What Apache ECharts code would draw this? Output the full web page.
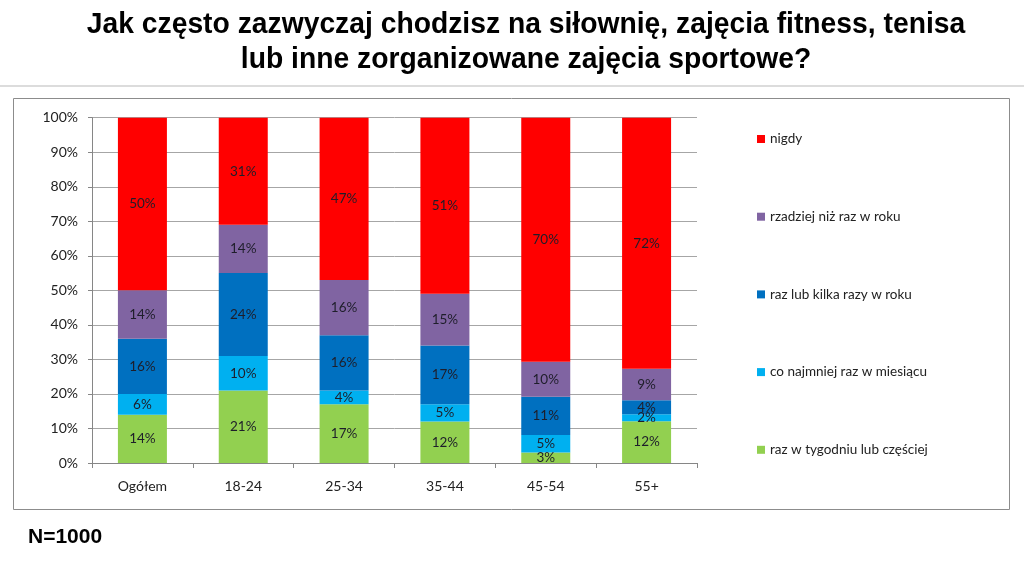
<!DOCTYPE html>
<html>
<head>
<meta charset="utf-8">
<script src="https://cdn.jsdelivr.net/npm/echarts@6/dist/echarts.min.js"></script>
<style>html,body{margin:0;padding:0;background:#fff;}#c{width:1024px;height:562px;}</style>
</head>
<body>
<div id="c"></div>
<script>
const categories = ['Ogółem', '18-24', '25-34', '35-44', '45-54', '55+'];
const seriesNames = ['raz w tygodniu lub częściej', 'co najmniej raz w miesiącu', 'raz lub kilka razy w roku', 'rzadziej niż raz w roku', 'nigdy'];
const weekly = [14, 21, 17, 12, 3, 12];
const monthly = [6, 10, 4, 5, 5, 2];
const yearly = [16, 24, 16, 17, 11, 4];
const lessThanYearly = [14, 14, 16, 15, 10, 9];
const never = [50, 31, 47, 51, 70, 72];
const colors = ['#92D050', '#00B0F0', '#0070C0', '#8064A2', '#FF0000'];
const yTickLabels = ['0%', '10%', '20%', '30%', '40%', '50%', '60%', '70%', '80%', '90%', '100%'];

const allSeries = [weekly, monthly, yearly, lessThanYearly, never];
const totals = categories.map((c, i) => allSeries.reduce((s, arr) => s + arr[i], 0));
const labelFont = 'Lato, "Noto Sans", sans-serif';

const chart = echarts.init(document.getElementById('c'), null, {renderer: 'canvas'});
chart.setOption({
  animation: false,
  backgroundColor: '#fff',
  graphic: [
    {type: 'line', shape: {x1: 0, y1: 86, x2: 1024, y2: 86}, style: {stroke: '#dcdcdc', lineWidth: 2}},
    {type: 'rect', shape: {x: 13.5, y: 98.5, width: 996, height: 411}, style: {fill: 'none', stroke: '#8c8c8c', lineWidth: 1}},
    {type: 'text', x: 526, y: 7, scaleX: 0.975, style: {
      text: 'Jak często zazwyczaj chodzisz na siłownię, zajęcia fitness, tenisa\nlub inne zorganizowane zajęcia sportowe?',
      font: 'bold 29px "Liberation Sans", Arial, sans-serif', textAlign: 'center', textVerticalAlign: 'top', lineHeight: 35, fill: '#000'}},
    {type: 'text', x: 28, y: 527, style: {text: 'N=1000', font: 'bold 21px "Liberation Sans", Arial, sans-serif', fill: '#000', textVerticalAlign: 'top'}}
  ],
  grid: {left: 92, right: 327, top: 117.7, bottom: 99, containLabel: false},
  legend: {
    orient: 'vertical', left: 757, top: 131, padding: 0,
    itemWidth: 8, itemHeight: 8, itemGap: 61.7,
    icon: 'rect',
    data: seriesNames.slice().reverse(),
    textStyle: {fontFamily: labelFont, fontSize: 13.5, color: '#222', lineHeight: 16}
  },
  xAxis: {
    type: 'category', data: categories,
    axisLine: {lineStyle: {color: '#868686'}},
    axisTick: {show: true, interval: 0, length: 5, lineStyle: {color: '#868686'}},
    axisLabel: {interval: 0, fontFamily: labelFont, fontSize: 14, color: '#222', margin: 16}
  },
  yAxis: {
    type: 'value', min: 0, max: 100, interval: 10,
    axisLine: {show: true, lineStyle: {color: '#868686'}},
    axisTick: {show: true, length: 4, lineStyle: {color: '#868686'}},
    splitLine: {lineStyle: {color: '#a6a6a6'}},
    axisLabel: {fontFamily: labelFont, fontSize: 14, color: '#222', margin: 14,
      formatter: (v) => yTickLabels[Math.round(v / 10)]}
  },
  series: allSeries.map((arr, k) => ({
    name: seriesNames[k], type: 'bar', stack: 'total', barWidth: 49,
    itemStyle: {color: colors[k]},
    label: {show: true, position: 'inside', fontFamily: labelFont, fontSize: 13.5, color: '#1e1e2a',
      formatter: (p) => p.data.raw + '%'},
    data: arr.map((v, i) => ({value: v / totals[i] * 100, raw: v}))
  }))
});
</script>
</body>
</html>
